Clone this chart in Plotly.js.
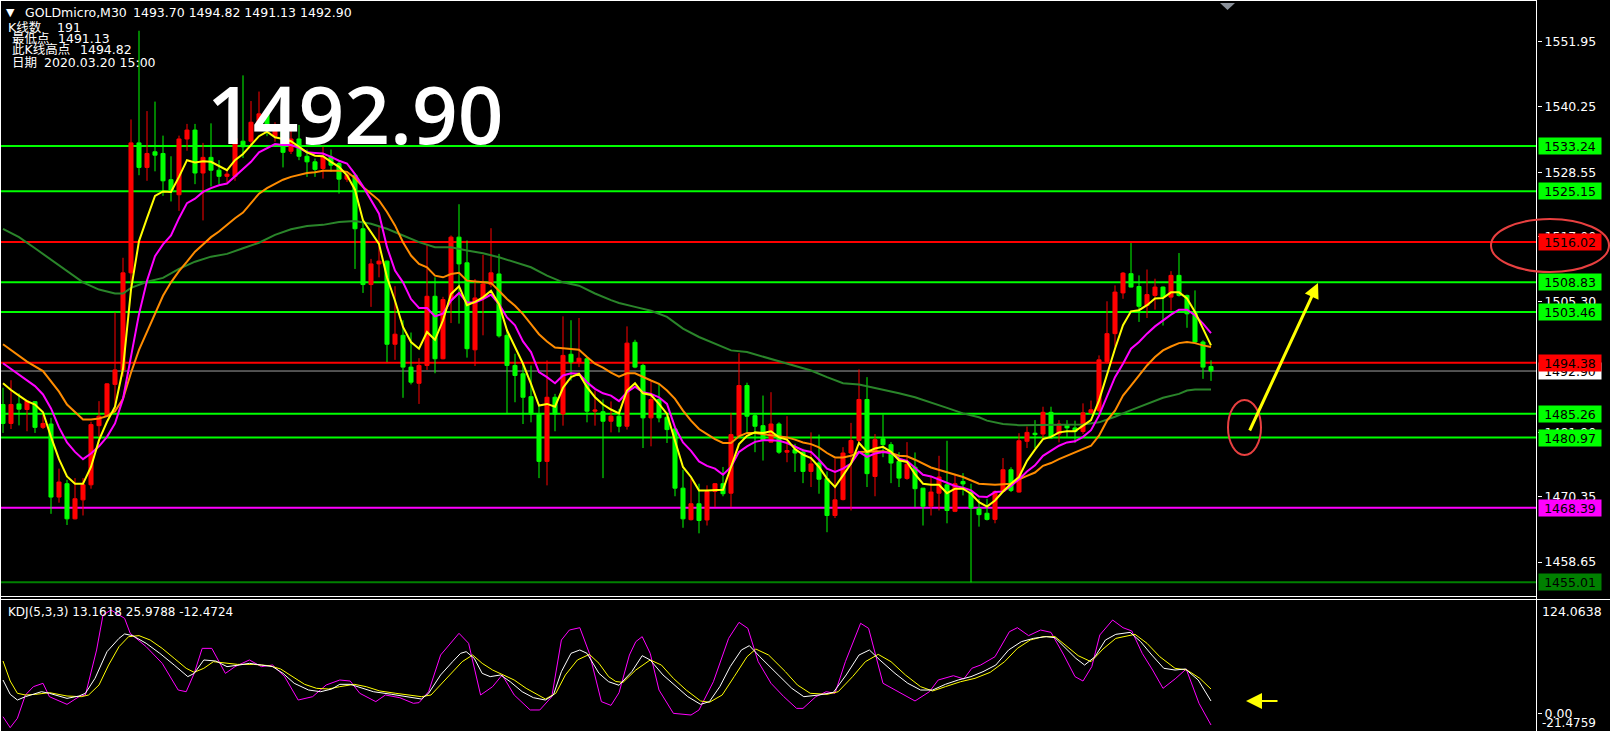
<!DOCTYPE html>
<html><head><meta charset="utf-8">
<script src="https://cdn.plot.ly/plotly-3.0.1.min.js"></script>
<style>html,body{margin:0;padding:0;background:#000;overflow:hidden}#chart{width:1610px;height:731px}</style>
</head><body><div id="chart"></div>
<script>
// ---- candle data (GOLDmicro M30), bar number = array index ----
const candleOpen = [
1486.9,1483.5,1487.0,1486.0,1487.4,1482.8,1483.4,1470.3,1472.7,1466.4,
1469.8,1472.5,1483.1,1484.8,1490.5,1493.1,1510.5,1533.8,1529.4,1532.2,
1531.9,1527.2,1524.5,1534.5,1536.1,1528.4,1531.2,1528.9,1527.8,1527.8,
1534.1,1534.1,1537.5,1539.0,1535.0,1536.1,1532.3,1534.5,1531.4,1530.4,
1529.2,1531.3,1530.1,1527.3,1528.0,1518.4,1508.4,1512.1,1512.6,1497.7,
1499.3,1493.6,1490.7,1493.9,1506.3,1495.1,1505.7,1516.9,1512.3,1496.7,
1506.0,1508.4,1510.3,1499.3,1493.9,1492.4,1488.3,1485.2,1476.7,1488.2,
1485.2,1495.9,1494.5,1495.1,1485.7,1485.6,1483.9,1484.8,1483.0,1498.05,
1493.9,1484.5,1487.8,1484.6,1482.5,1471.9,1466.25,1469.1,1466.2,1471.3,
1472.7,1471.0,1481.3,1490.3,1484.9,1483.1,1480.15,1483.4,1478.35,1478.8,
1478.35,1474.9,1476.4,1473.6,1467.0,1469.85,1478.2,1480.45,1487.8,1474.0,
1480.75,1479.7,1476.7,1473.65,1475.65,1471.9,1468.65,1471.0,1472.5,1467.75,
1473.1,1471.2,1468.2,1467.4,1466.3,1471.3,1475.2,1471.2,1480.3,1481.75,
1481.6,1485.5,1481.6,1483.3,1482.7,1482.05,1485.4,1485.8,1494.6,1499.6,
1506.9,1510.35,1508.05,1504.65,1506.45,1507.95,1506.15,1510.05,1506.45,1503.45,
1498.1,1493.70];
const candleHigh = [
1489.9,1491.25,1488.9,1487.7,1487.5,1485.2,1484.5,1475.4,1473.4,1473.7,
1473.7,1483.8,1487.5,1490.7,1503.4,1513.2,1538.0,1553.9,1539.5,1541.2,
1535.1,1531.4,1535.1,1537.2,1537.2,1533.8,1537.3,1530.7,1529.1,1535.5,
1545.9,1541.3,1543.0,1539.5,1537.5,1536.5,1536.0,1537.0,1532.6,1531.0,
1533.1,1532.6,1530.4,1528.2,1528.3,1520.2,1513.0,1518.7,1512.7,1508.1,
1502.0,1499.8,1495.2,1515.6,1509.7,1506.2,1517.2,1522.8,1516.3,1509.4,
1513.7,1518.5,1513.9,1500.2,1496.0,1494.2,1493.9,1486.9,1494.8,1488.8,
1502.7,1502.0,1502.4,1495.4,1489.4,1487.8,1487.45,1486.1,1500.9,1498.5,
1494.2,1491.05,1490.6,1484.9,1482.8,1475.2,1473.6,1472.7,1472.4,1472.8,
1475.7,1485.4,1496.1,1490.8,1485.2,1488.5,1489.1,1483.7,1484.8,1479.85,
1478.95,1481.9,1481.5,1474.9,1477.15,1479.25,1483.6,1493.2,1491.8,1481.6,
1485.1,1480.15,1478.35,1480.15,1478.3,1471.95,1473.9,1477.7,1480.4,1474.45,
1474.6,1472.7,1470.0,1470.0,1471.5,1477.3,1475.65,1481.75,1482.95,1484.1,
1486.5,1486.5,1484.1,1484.1,1484.0,1487.1,1487.6,1495.7,1505.4,1508.25,
1510.65,1515.85,1510.05,1511.1,1509.45,1508.05,1510.8,1514.05,1506.6,1507.35,
1498.4,1494.82];
const candleLow = [
1481.8,1482.5,1483.15,1482.1,1481.8,1482.5,1467.3,1469.3,1465.3,1466.3,
1467.0,1471.8,1481.1,1484.7,1485.9,1491.9,1508.1,1528.0,1527.0,1528.7,
1524.3,1523.3,1521.6,1532.4,1526.4,1519.9,1526.0,1526.4,1526.7,1527.0,
1531.1,1533.4,1536.0,1535.0,1534.0,1529.4,1531.8,1530.7,1527.7,1527.7,
1527.4,1528.6,1524.7,1526.8,1511.2,1506.9,1504.4,1509.7,1494.5,1494.9,
1488.1,1490.5,1487.0,1493.1,1492.5,1495.0,1501.5,1501.4,1495.3,1493.8,
1499.3,1507.9,1498.9,1485.2,1487.3,1483.4,1483.7,1473.7,1472.4,1482.1,
1483.1,1491.2,1493.6,1483.7,1483.1,1473.7,1481.9,1481.9,1482.4,1493.4,
1479.1,1479.4,1483.7,1480.0,1470.45,1464.8,1466.1,1463.8,1465.2,1468.5,
1470.45,1468.5,1481.2,1481.9,1478.35,1476.85,1480.1,1478.05,1476.55,1474.8,
1472.8,1472.1,1470.9,1464.0,1466.55,1469.7,1467.9,1480.15,1472.1,1470.45,
1477.45,1472.8,1472.1,1473.4,1468.5,1465.2,1467.0,1467.9,1465.6,1467.6,
1470.6,1455.01,1465.0,1466.1,1465.6,1471.2,1471.2,1471.1,1479.1,1479.1,
1480.7,1480.7,1480.1,1481.0,1480.0,1481.6,1485.2,1485.5,1494.2,1497.3,
1505.85,1507.9,1501.7,1502.4,1503.9,1501.05,1503.75,1506.25,1500.65,1497.8,
1491.5,1491.13];
const candleClose = [
1483.5,1486.9,1486.06,1487.5,1482.8,1483.5,1470.3,1473.0,1466.4,1470.0,
1472.5,1483.3,1484.8,1490.6,1493.1,1510.5,1533.8,1529.4,1531.9,1531.6,
1527.0,1525.3,1534.5,1536.1,1528.4,1531.2,1528.9,1527.8,1528.2,1534.6,
1533.1,1537.5,1539.0,1536.5,1536.4,1532.1,1534.5,1531.4,1530.4,1529.05,
1531.3,1529.8,1527.3,1528.0,1518.4,1508.4,1512.1,1512.6,1497.7,1499.5,
1493.6,1490.9,1493.9,1506.3,1495.1,1505.7,1516.9,1512.1,1496.9,1506.0,
1508.5,1510.5,1499.2,1493.9,1492.1,1488.2,1485.2,1476.7,1488.2,1485.2,
1495.7,1494.5,1495.2,1485.7,1485.9,1483.9,1484.8,1483.0,1497.9,1493.6,
1484.5,1487.8,1484.5,1482.4,1471.9,1466.4,1469.1,1466.1,1471.3,1472.7,
1470.9,1481.5,1490.3,1484.8,1483.0,1480.45,1483.4,1478.35,1478.65,1478.2,
1474.9,1476.25,1473.5,1467.0,1469.8,1478.2,1480.45,1487.8,1474.5,1480.6,
1479.7,1476.4,1473.7,1476.2,1471.8,1468.65,1471.2,1473.9,1467.9,1472.7,
1472.65,1468.35,1467.15,1466.3,1471.3,1475.2,1471.5,1480.4,1481.9,1481.5,
1485.5,1480.9,1483.4,1482.7,1482.05,1485.4,1485.95,1494.9,1499.6,1507.05,
1510.45,1507.95,1504.5,1506.6,1507.95,1506.15,1510.05,1506.45,1503.15,1498.1,
1493.6,1492.90];

// ---- moving averages ----
const maYellow = [
1490.7,1489.5,1488.5,1487.5,1486.9,1485.5,1481.1,1477.1,1474.0,1472.7,
1472.7,1475.7,1480.5,1483.8,1486.5,1493.3,1507.5,1516.2,1520.3,1524.3,
1525.1,1525.0,1527.7,1530.7,1530.3,1530.5,1530.4,1529.7,1528.9,1530.7,
1531.8,1533.4,1535.0,1535.8,1534.8,1534.5,1534.1,1533.1,1532.1,1531.5,
1531.4,1530.4,1529.5,1528.0,1525.4,1519.9,1517.8,1515.7,1509.7,1505.5,
1500.8,1498.1,1496.9,1499.9,1498.5,1502.0,1506.7,1508.1,1504.7,1505.3,
1506.1,1507.3,1504.9,1500.2,1497.2,1494.2,1490.6,1486.7,1487.0,1486.5,
1489.9,1491.8,1492.4,1490.0,1488.2,1486.9,1486.0,1485.3,1489.4,1490.7,
1488.9,1488.6,1487.0,1485.2,1480.4,1475.7,1473.9,1471.5,1471.5,1471.6,
1471.6,1475.7,1479.8,1481.3,1481.9,1481.8,1482.1,1481.0,1480.6,1478.9,
1477.9,1477.3,1475.7,1473.6,1472.1,1474.2,1476.3,1480.0,1478.4,1479.0,
1479.3,1478.4,1476.9,1476.6,1474.4,1472.7,1472.5,1472.5,1471.0,1471.8,
1471.8,1470.9,1469.4,1468.6,1469.7,1471.3,1472.7,1473.9,1476.8,1478.8,
1480.7,1481.1,1481.9,1482.1,1482.1,1483.1,1484.1,1487.6,1492.4,1496.9,
1501.1,1503.6,1503.8,1504.7,1505.9,1506.0,1507.0,1507.0,1505.9,1503.5,
1500.5,1497.5];
const maMagenta = [
1494.3,1493.3,1492.3,1491.3,1490.2,1488.7,1486.2,1482.8,1480.1,1478.4,
1477.1,1478.1,1479.4,1481.1,1483.5,1487.9,1495.3,1503.1,1509.1,1513.5,
1515.6,1517.2,1520.3,1523.0,1523.8,1525.0,1525.7,1526.2,1526.5,1527.8,
1529.1,1530.4,1532.1,1532.8,1533.6,1533.4,1533.4,1532.9,1532.1,1532.0,
1531.9,1531.3,1530.6,1530.1,1528.2,1526.0,1523.6,1521.1,1515.1,1510.9,
1508.8,1505.8,1504.2,1504.2,1502.7,1503.2,1505.5,1506.9,1505.2,1505.2,
1505.8,1506.6,1504.9,1502.5,1501.1,1498.2,1496.3,1492.7,1491.8,1490.7,
1492.1,1492.5,1492.4,1490.9,1489.7,1488.9,1488.5,1487.5,1489.1,1490.1,
1489.1,1488.8,1488.2,1487.0,1482.8,1480.1,1478.6,1476.7,1475.9,1475.4,
1474.3,1475.7,1478.4,1479.4,1480.2,1480.5,1480.5,1480.4,1480.0,1479.3,
1478.7,1478.4,1477.0,1475.4,1474.8,1475.4,1476.3,1478.4,1477.5,1478.1,
1478.4,1478.2,1477.2,1476.8,1475.6,1474.3,1474.0,1473.4,1472.8,1472.3,
1472.0,1471.5,1470.4,1470.3,1471.2,1471.3,1472.3,1473.5,1474.9,1476.0,
1477.7,1478.6,1479.5,1480.1,1480.3,1481.1,1482.3,1484.9,1488.2,1491.8,
1494.2,1496.9,1498.1,1499.6,1500.9,1502.0,1503.0,1503.9,1503.9,1502.9,
1501.4,1499.7];
const maOrangeBar = [0,2,3,5,7,8,9,10,11,12,
13,14,15,16,17,18,19,20,21,22,
23,24,25,26,27,28,29,30,31,32,
33,34,35,36,37,38,39,40,41,42,
43,44,45,46,47,48,49,50,51,52,
53,54,55,56,57,58,59,60,61,62,
63,64,65,66,67,68,69,70,71,72,
73,74,75,76,77,78,79,80,81,82,
83,84,85,86,87,88,89,90,91,92,
93,94,95,96,97,98,99,100,101,102,
103,104,105,106,107,108,109,110,111,112,
113,114,116,118,120,122,124,126,127,128,
129,130,131,132,133,134,135,136,137,138,
139,140,141,142,143,144,145,146,147,148,
149,150,151];
const maOrange = [1497.7,1495.6,1494.6,1492.9,1489.2,1486.9,1485.5,1484.2,1484.2,1484.4,
1484.8,1485.7,1487.9,1492.6,1496.7,1500.0,1503.4,1506.4,1508.8,1510.8,
1512.5,1514.3,1515.6,1516.9,1517.9,1519.1,1520.3,1521.3,1523.0,1524.7,
1525.7,1526.5,1527.2,1527.7,1528.1,1528.4,1528.55,1528.8,1528.8,1528.8,
1528.6,1527.5,1525.9,1524.7,1523.5,1521.4,1519.0,1516.0,1513.6,1512.1,
1511.5,1510.0,1509.7,1510.3,1510.5,1509.1,1509.0,1508.8,1508.7,1507.3,
1505.8,1504.6,1503.1,1501.3,1499.5,1498.2,1497.1,1497.0,1496.8,1496.7,
1495.4,1494.2,1493.5,1492.6,1491.9,1492.5,1492.5,1491.8,1491.2,1490.6,
1489.4,1487.9,1485.8,1484.0,1482.5,1481.6,1480.7,1480.0,1480.0,1481.2,
1481.8,1481.8,1481.6,1481.5,1481.3,1481.0,1480.6,1480.1,1479.8,1479.2,
1478.2,1477.4,1477.4,1477.7,1478.4,1478.4,1478.4,1478.5,1478.2,1477.7,
1477.6,1477.0,1475.6,1474.7,1473.9,1472.7,1472.5,1472.7,1473.5,1474.1,
1474.7,1475.9,1476.4,1477.1,1477.7,1478.3,1478.9,1479.5,1481.3,1484.0,
1485.8,1488.5,1490.3,1492.1,1493.9,1495.4,1496.6,1497.3,1497.9,1498.1,
1497.9,1497.5,1497.2];
const maGreenBar = [0,2,4,6,8,10,12,14,15,16,18,20,22,24,26,28,30,32,34,36,
38,40,42,44,46,48,50,52,54,56,58,60,62,64,66,68,70,72,74,76,
77,79,81,83,85,87,89,91,93,95,97,99,101,103,105,107,109,111,112,114,
116,118,120,122,123,125,127,129,131,133,135,137,139,141,143,145,147,148,149,151];
const maGreen = [1518.4,1516.9,1514.9,1512.9,1510.8,1508.8,1507.5,1506.8,1506.8,1507.8,
1508.9,1509.6,1511.2,1512.5,1513.4,1513.9,1514.9,1515.9,1517.3,1518.3,
1518.9,1519.1,1519.6,1519.8,1519.3,1518.4,1517.2,1516.0,1515.1,1515.1,
1514.5,1514.0,1513.3,1512.4,1511.5,1510.0,1508.8,1508.2,1506.8,1505.6,
1505.1,1504.4,1503.7,1502.6,1500.5,1499.0,1497.8,1496.6,1496.3,1495.5,
1494.7,1493.9,1493.0,1491.8,1490.7,1490.5,1489.9,1489.3,1488.9,1488.2,
1487.3,1486.3,1485.3,1484.6,1484.0,1483.4,1483.2,1483.2,1483.2,1483.3,
1483.3,1483.7,1484.7,1485.9,1487.0,1488.1,1488.8,1489.4,1489.6,1489.6];

// ---- KDJ(5,3,3) (bar position, value) ----
const kdjKBar = [0,0.9,1.8,2.8,4.8,5.8,8.0,9.5,10.3,11.5,13.0,14.5,15.2,16.2,17.9,19.6,21.4,23.1,23.9,25.1,26.6,28.0,29.5,30.8,32.3,33.7,35.0,36.4,38.2,39.7,41.1,42.1,43.4,44.6,46.3,48.6,50.5,52.3,53.2,54.7,56.2,57.2,57.9,58.9,59.9,60.9,62.2,63.4,64.9,66.3,67.8,68.8,69.8,71.0,72.1,73.0,74.5,75.7,77.0,78.6,79.9,80.9,82.5,84.1,85.6,87.2,88.3,89.6,90.9,92.3,93.3,94.6,96.7,98.6,100.1,102.0,103.8,105.4,107.0,108.3,109.6,111.5,113.1,114.7,116.2,117.8,119.4,121.0,122.5,124.1,125.7,127.3,128.8,130.4,131.5,132.8,134.1,135.2,136.5,137.8,139.1,140.9,142.2,143.6,145.1,146.5,147.8,149.4,151];
const kdjK = [35.6,20.3,14.2,17.8,23.1,21.4,16.0,18.5,21.4,37.4,65.9,80.1,84.8,83.0,74.8,64.1,51.6,39.2,42.7,57.0,55.9,49.9,51.6,53.4,51.6,49.9,42.7,32.1,24.9,23.1,26.0,31.0,31.0,27.4,23.1,20.3,17.8,15.3,21.4,41.0,55.2,64.1,65.9,58.8,42.7,39.2,41.0,33.8,23.1,16.7,14.2,19.6,44.5,64.1,67.7,64.1,42.7,33.8,30.0,44.5,61.6,57.0,41.0,28.5,17.8,9.6,12.5,28.5,49.9,67.7,72.3,60.5,42.7,26.7,17.8,19.6,22.4,41.0,62.3,67.7,57.0,42.7,32.1,24.9,24.9,31.0,35.6,39.2,44.5,51.6,67.7,76.6,80.1,81.9,80.8,69.4,58.8,51.6,60.5,78.3,84.4,86.5,76.6,62.3,48.1,46.3,47.4,35.6,13.1618];
const kdjDBar = [0,0.9,1.8,2.8,4.1,5.8,8.0,9.8,10.7,12.0,13.2,14.5,15.7,17.0,18.4,19.9,21.4,22.9,23.9,25.1,26.3,27.8,29.3,31.3,33.3,34.7,36.2,37.7,39.2,40.7,42.1,43.9,45.4,47.1,49.1,51.0,52.3,53.5,54.7,56.0,57.4,58.7,59.9,61.2,62.4,63.9,65.4,66.8,67.8,69.1,70.3,71.8,73.3,74.5,75.7,76.6,77.5,79.1,80.9,82.3,83.8,85.4,87.2,88.3,89.9,91.4,93.0,94.1,95.7,97.8,99.3,100.9,103.0,104.4,106.2,107.8,109.4,111.0,112.8,114.7,116.2,117.8,119.7,121.5,123.4,125.2,126.8,128.4,130.0,131.5,132.8,134.4,136.0,137.5,139.1,141.5,143.0,144.6,146.5,148.0,149.6,151];
const kdjD = [55.9,34.5,21.4,19.6,20.3,22.1,18.5,17.8,19.6,30.3,51.6,71.2,81.9,83.0,78.3,69.4,58.8,48.1,43.8,48.1,55.2,53.4,52.3,52.3,50.9,47.4,39.2,31.0,26.7,26.0,28.5,31.0,28.5,23.9,21.4,18.9,17.8,19.6,30.3,42.7,55.2,62.3,53.4,46.3,41.7,35.6,26.7,19.6,15.3,21.4,41.0,57.0,63.0,53.4,39.2,34.0,33.1,46.3,57.0,51.6,37.4,24.9,13.2,11.8,19.6,39.2,60.5,68.7,62.3,44.5,30.3,21.4,20.3,23.1,39.2,55.2,63.0,55.2,41.0,28.5,23.9,28.5,33.8,37.4,43.8,55.2,69.4,78.3,81.9,81.9,73.0,61.6,55.2,68.7,80.1,84.4,74.8,60.5,48.1,46.3,37.4,25.9788];
const kdjJBar = [0,0.9,1.8,2.8,3.8,5.0,5.8,8.0,9.5,10.3,11.7,12.5,13.5,15.2,15.9,17.9,19.9,21.9,22.9,23.9,24.9,26.1,27.8,29.0,30.8,32.3,33.7,35.2,36.9,38.7,40.4,42.1,43.4,44.6,46.6,47.8,49.6,51.3,52.0,53.2,54.7,57.0,58.2,59.7,61.2,62.4,63.9,65.9,67.1,68.6,69.8,70.8,72.1,73.3,74.8,76.0,77.0,78.3,79.1,79.9,80.9,82.0,83.8,86.0,87.0,88.8,90.7,92.0,93.1,94.4,96.0,97.6,99.2,100.0,101.6,102.9,104.0,105.3,107.2,108.2,110.0,111.6,114.0,115.8,116.9,118.8,120.1,121.1,122.2,124.0,125.8,126.8,128.2,129.7,131.0,132.6,134.0,135.0,136.1,137.1,138.7,140.0,141.1,142.4,143.7,145.0,146.6,147.9,149.5,151];
const kdjJ = [-3.6,-15.3,-5.3,19.6,28.5,32.1,17.8,9.6,17.8,19.6,67.7,105.1,110.4,101.5,85.5,71.2,53.4,24.9,23.1,42.7,69.4,69.4,42.7,49.9,57.0,49.9,51.6,39.2,14.2,17.8,30.3,35.6,34.5,21.4,12.5,19.6,16.7,10.7,11.4,23.1,62.3,85.5,74.8,19.6,28.5,41.0,19.6,3.6,3.6,17.8,78.3,89.0,91.5,64.1,12.5,8.5,22.0,62.3,76.6,81.9,64.1,24.9,0,-1.8,3.6,33.8,80.1,97.2,90.8,55.2,32.1,17.8,5.3,5.3,17.8,23.1,21.4,55.2,96.2,90.8,32.1,24.9,13.2,23.1,35.6,40.2,36.7,48.1,51.6,60.5,87.2,91.5,83.0,89.0,86.5,62.3,39.2,34.5,49.9,83.7,99.7,91.5,88.0,64.1,46.3,26.7,37.4,47.4,10.7,-12.4724];

// ---- horizontal levels & axis labels ----
const levelPrices = [1533.24,1525.15,1516.02,1508.83,1503.46,1494.38,1485.26,1480.97,1468.39,1455.01];
const levelLabels = ['1533.24','1525.15','1516.02','1508.83','1503.46','1494.38','1485.26','1480.97','1468.39','1455.01'];
const levelColors = ['#00ff00','#00ff00','#ff0000','#00ff00','#00ff00','#ff0000','#00ff00','#00ff00','#ff00ff','#008000'];
const bidPrice = 1492.90;
const priceTicks = [1551.95,1540.25,1528.55,1517.00,1505.30,1481.90,1470.35,1458.65];
const priceTickText = ['1551.95','1540.25','1528.55','1517.00','1505.30','1481.90','1470.35','1458.65'];
const kdjMax = 124.0638, kdjMin = -21.4759;

// ---- geometry helpers (pixel -> paper) ----
const PW = 1537, PH = 731;
const fx = p => p / PW;
const fy = p => (PH - p) / PH;
const bars = candleOpen.map((_, i) => i);

const FONT = 'DejaVu Sans, Noto Sans CJK SC, sans-serif';

const data = [
  {type:'candlestick', x:bars, open:candleOpen, high:candleHigh, low:candleLow, close:candleClose,
   xaxis:'x', yaxis:'y', whiskerwidth:0, hoverinfo:'skip',
   increasing:{line:{color:'#ff0000',width:1}, fillcolor:'#ff0000'},
   decreasing:{line:{color:'#00ff00',width:1}, fillcolor:'#00ff00'}},
  {type:'scatter', mode:'lines', x:maGreenBar, y:maGreen, line:{color:'#2a852a',width:2}, xaxis:'x', yaxis:'y', hoverinfo:'skip'},
  {type:'scatter', mode:'lines', x:maOrangeBar, y:maOrange, line:{color:'#ff8c00',width:2}, xaxis:'x', yaxis:'y', hoverinfo:'skip'},
  {type:'scatter', mode:'lines', x:bars, y:maMagenta, line:{color:'#ff00ff',width:2}, xaxis:'x', yaxis:'y', hoverinfo:'skip'},
  {type:'scatter', mode:'lines', x:bars, y:maYellow, line:{color:'#ffff00',width:2}, xaxis:'x', yaxis:'y', hoverinfo:'skip'},
  {type:'scatter', mode:'lines', x:kdjJBar, y:kdjJ, line:{color:'#ff00ff',width:1}, xaxis:'x', yaxis:'y2', hoverinfo:'skip'},
  {type:'scatter', mode:'lines', x:kdjDBar, y:kdjD, line:{color:'#ffff00',width:1}, xaxis:'x', yaxis:'y2', hoverinfo:'skip'},
  {type:'scatter', mode:'lines', x:kdjKBar, y:kdjK, line:{color:'#ffffff',width:1}, xaxis:'x', yaxis:'y2', hoverinfo:'skip'}
];

const shapes = [];
levelPrices.forEach((p, i) => shapes.push({type:'line', xref:'paper', yref:'y', x0:0, x1:1, y0:p, y1:p,
  line:{color:levelColors[i], width:2}, layer:'below'}));
shapes.push({type:'line', xref:'paper', yref:'y', x0:0, x1:1, y0:bidPrice, y1:bidPrice, line:{color:'#a0a0a0', width:1}, layer:'below'});
// frame
const W = '#ffffff';
shapes.push({type:'line', xref:'paper', yref:'paper', x0:0, x1:1, y0:fy(0.5), y1:fy(0.5), line:{color:W,width:1}});
shapes.push({type:'line', xref:'paper', yref:'paper', x0:fx(0.5), x1:fx(0.5), y0:0, y1:1, line:{color:W,width:1}});
shapes.push({type:'line', xref:'paper', yref:'paper', x0:fx(1536.5), x1:fx(1536.5), y0:0, y1:1, line:{color:W,width:1}});
shapes.push({type:'line', xref:'paper', yref:'paper', x0:0, x1:fx(1536.5), y0:fy(596.5), y1:fy(596.5), line:{color:W,width:1}});
shapes.push({type:'line', xref:'paper', yref:'paper', x0:0, x1:fx(1610), y0:fy(599.5), y1:fy(599.5), line:{color:W,width:1}});
// ellipses
shapes.push({type:'circle', xref:'paper', yref:'paper', x0:fx(1491), x1:fx(1609), y0:fy(272), y1:fy(219), line:{color:'#e84040',width:2}});
shapes.push({type:'circle', xref:'paper', yref:'paper', x0:fx(1228), x1:fx(1261), y0:fy(455), y1:fy(400), line:{color:'#e84040',width:2}});
// small grey marker on top
shapes.push({type:'path', xref:'paper', yref:'paper',
  path:`M ${fx(1220)} ${fy(3)} L ${fx(1235)} ${fy(3)} L ${fx(1227.5)} ${fy(10)} Z`,
  fillcolor:'#8a9099', line:{width:0}});

const annotations = [];
const boxX = fx(1537.7);
annotations.push({xref:'paper', yref:'y', x:boxX, y:bidPrice, xanchor:'left', yanchor:'middle', showarrow:false,
  text:'1492.90', bgcolor:'#ffffff', width:60, height:14, borderpad:1, font:{family:FONT,size:12.5,color:'#000'}});
levelPrices.forEach((p, i) => annotations.push({xref:'paper', yref:'y', x:boxX, y:p, xanchor:'left', yanchor:'middle',
  showarrow:false, text:levelLabels[i], bgcolor:levelColors[i], width:60, height:14, borderpad:1,
  font:{family:FONT,size:12.5,color:'#000'}}));
// KDJ axis labels
annotations.push({xref:'paper', yref:'paper', x:fx(1540), y:fy(611), xanchor:'left', yanchor:'middle', showarrow:false,
  text:kdjMax.toFixed(4), font:{family:FONT,size:12.5,color:'#fff'}});
annotations.push({xref:'paper', yref:'paper', x:fx(1540), y:fy(722.5), xanchor:'left', yanchor:'middle', showarrow:false,
  text:kdjMin.toFixed(4), font:{family:FONT,size:12,color:'#fff'}});
// header texts
const hdr = (px, py, t, size) => annotations.push({xref:'paper', yref:'paper', x:fx(px), y:fy(py), xanchor:'left', yanchor:'middle',
  showarrow:false, text:t, font:{family:FONT,size:size,color:'#ffffff'}});
hdr(4, 13, '▼', 11);
hdr(23, 13, 'GOLDmicro,M30', 12.5);
hdr(131, 13, '1493.70 1494.82 1491.13 1492.90', 12.5);
hdr(6, 27, 'K线数', 12.5);
hdr(55, 27, '191', 12.5);
hdr(10, 39, '最低点', 12.5);
hdr(56, 39, '1491.13', 12.5);
hdr(10, 50, '此K线高点', 12.5);
hdr(78, 50, '1494.82', 12.5);
hdr(10, 62, '日期', 12.5);
hdr(42, 62, '2020.03.20 15:00', 12.5);
hdr(6, 612, 'KDJ(5,3,3) 13.1618 25.9788 -12.4724', 12);
// big price
annotations.push({xref:'paper', yref:'paper', x:fx(355), y:fy(112), xanchor:'center', yanchor:'middle', showarrow:false,
  text:'1492.90', font:{family:'Open Sans, Liberation Sans, sans-serif', size:80, weight:600, color:'#ffffff'}});
// arrows
annotations.push({xref:'paper', yref:'paper', x:fx(1318), y:fy(283), ax:1249-1318, ay:432-283, text:'', showarrow:true,
  arrowhead:2, arrowsize:1, arrowwidth:3, arrowcolor:'#ffff00', standoff:0});
annotations.push({xref:'paper', yref:'paper', x:fx(1246), y:fy(701), ax:33, ay:0, text:'', showarrow:true,
  arrowhead:2, arrowsize:1.6, arrowwidth:2, arrowcolor:'#ffff00', standoff:0});

const layout = {
  width:1610, height:731,
  margin:{l:0, r:73, t:0, b:0, pad:0},
  paper_bgcolor:'#000000', plot_bgcolor:'#000000',
  showlegend:false, hovermode:false, dragmode:false,
  boxgap:0.28,
  xaxis:{range:[-0.375, 191.75], visible:false, rangeslider:{visible:false}, fixedrange:true},
  yaxis:{domain:[137/731, 730/731], range:[1452.925, 1559.235], side:'right', anchor:'x',
    tickvals:priceTicks, ticktext:priceTickText, ticks:'outside', ticklen:4, tickcolor:'#ffffff', tickwidth:1,
    tickfont:{family:FONT, size:12.5, color:'#ffffff'}, showgrid:false, zeroline:false, showline:false, fixedrange:true},
  yaxis2:{domain:[0, 131/731], range:[-18.87, 121.08], side:'right', anchor:'x',
    tickvals:[0], ticktext:['0.00'], ticks:'outside', ticklen:4, tickcolor:'#ffffff', tickwidth:1,
    tickfont:{family:FONT, size:12.5, color:'#ffffff'}, showgrid:false, zeroline:false, showline:false, fixedrange:true},
  shapes:shapes, annotations:annotations
};

Plotly.newPlot('chart', data, layout, {staticPlot:true, displayModeBar:false});
</script>
</body></html>
